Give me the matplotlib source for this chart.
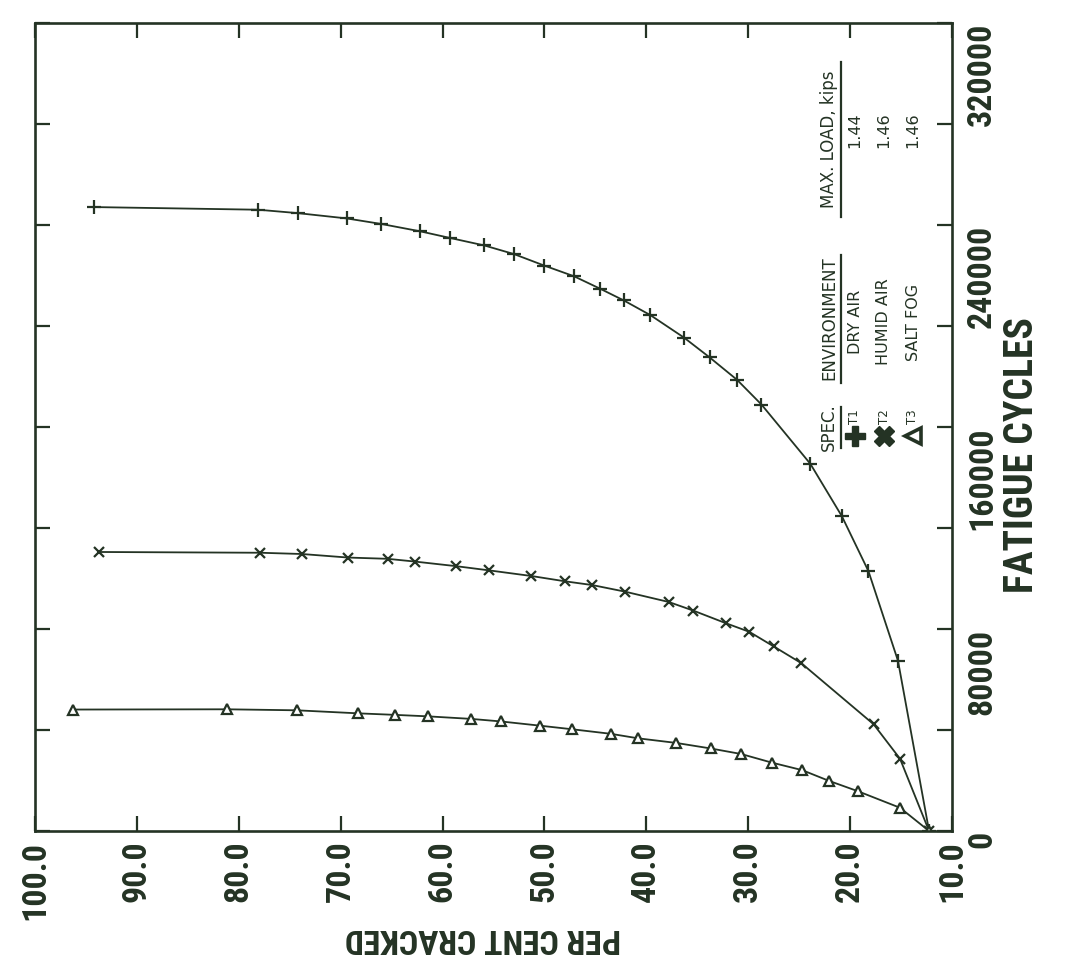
import matplotlib
matplotlib.use("Agg")
import matplotlib.pyplot as plt
from matplotlib.ticker import MultipleLocator, FixedLocator, FixedFormatter

# ---- data -------------------------------------------------------------
# per cent cracked (x) vs fatigue cycles (y) for the three specimens
t1_pct = [12.25, 15.3, 18.2, 20.8, 23.9, 28.7, 31.1, 33.8, 36.3, 39.6, 42.2,
          44.5, 47.1, 50.0, 53.0, 55.9, 59.3, 62.2, 66.0, 69.4, 74.2, 78.1, 94.2]
t1_cyc = [0, 67400, 102900, 124600, 145400, 168900, 178700, 187600, 195400,
          204300, 210100, 214700, 219700, 223900, 228500, 231900, 234900,
          237500, 240400, 242600, 244700, 246050, 247100]

t2_pct = [12.25, 15.1, 17.7, 24.8, 27.5, 29.9, 32.2, 35.4, 37.8, 42.1, 45.3,
          48.0, 51.3, 55.4, 58.7, 62.7, 65.4, 69.3, 73.8, 77.9, 93.7]
t2_cyc = [0, 28600, 42300, 66500, 73100, 78900, 82300, 87300, 90700, 94800,
          97400, 98900, 101000, 103200, 104900, 106700, 107800, 108300,
          109700, 110200, 110500]

t3_pct = [12.25, 15.1, 19.2, 22.1, 24.7, 27.7, 30.7, 33.7, 37.1, 40.8, 43.5,
          47.3, 50.4, 54.3, 57.2, 61.4, 64.7, 68.3, 74.3, 81.2, 96.3]
t3_cyc = [0, 9200, 15700, 19900, 24100, 27100, 30500, 32700, 34900, 36700,
          38500, 40300, 41700, 43400, 44400, 45400, 46000, 46600, 47800,
          48200, 48100]

pct_ticks = [100, 90, 80, 70, 60, 50, 40, 30, 20, 10]
pct_labels = ["100.0", "90.0", "80.0", "70.0", "60.0", "50.0", "40.0",
              "30.0", "20.0", "10.0"]
cyc_label_ticks = [0, 80000, 160000, 240000, 320000]
cyc_labels = ["0", "80000", "160000", "240000", "320000"]

spec_names = ["T1", "T2", "T3"]
environments = ["DRY AIR", "HUMID AIR", "SALT FOG"]
max_loads = ["1.44", "1.46", "1.46"]

# ---- styling ----------------------------------------------------------
INK = "#243324"
W, H = 1068, 955
BOLD_FONT = ["Roboto Condensed", "Liberation Sans Narrow", "Roboto", "DejaVu Sans"]
SMALL_FONT = ["DejaVu Sans"]

fig = plt.figure(figsize=(W / 100, H / 100), dpi=100)
fig.patch.set_facecolor("white")


def fx(px):
    return px / W


def fy(py):
    return 1 - py / H


ax = fig.add_axes([fx(35), fy(831), (952 - 35) / W, (831 - 23) / H])
ax.set_xlim(100, 10)
ax.set_ylim(0, 320000)

for s in ax.spines.values():
    s.set_linewidth(1.9)
    s.set_color(INK)

# curves
ax.plot(t1_pct, t1_cyc, color=INK, lw=1.3, marker="+", ms=10, mew=1.6)
ax.plot(t2_pct, t2_cyc, color=INK, lw=1.3, marker="x", ms=7, mew=1.6)
ax.plot(t3_pct, t3_cyc, color=INK, lw=1.3, marker="^", ms=6.5, mew=1.6,
        mfc="white", mec=INK)

# x axis: per cent cracked
ax.xaxis.set_major_locator(FixedLocator(pct_ticks))
ax.xaxis.set_major_formatter(FixedFormatter(pct_labels))
ax.tick_params(axis="x", which="both", direction="in", top=True, bottom=True,
               length=11, width=1.6, color=INK, pad=7, labelsize=24.5,
               labelcolor=INK)
for lab in ax.get_xticklabels():
    lab.set_rotation(90)
    lab.set_fontfamily(BOLD_FONT)
    lab.set_fontweight("bold")
    lab.set_va("top")
    lab.set_ha("center")

# y axis: fatigue cycles, labelled on the right
ax.yaxis.set_major_locator(FixedLocator(cyc_label_ticks))
ax.yaxis.set_major_formatter(FixedFormatter(cyc_labels))
ax.yaxis.set_minor_locator(MultipleLocator(40000))
ax.tick_params(axis="y", which="both", direction="in", left=True, right=True,
               labelleft=False, labelright=True, length=11, width=1.6,
               color=INK, pad=10, labelsize=24.5, labelcolor=INK)
for lab in ax.get_yticklabels():
    lab.set_rotation(90)
    lab.set_fontfamily(BOLD_FONT)
    lab.set_fontweight("bold")
    lab.set_va("top")
    lab.set_ha("left")

# axis titles
fig.text(fx(483), fy(938), "PER CENT CRACKED", rotation=180, ha="center",
         va="center", fontsize=24.3, fontweight="bold", family=BOLD_FONT,
         color=INK)
fig.text(fx(1022), fy(455), "FATIGUE CYCLES", rotation=90, ha="center",
         va="center", fontsize=28.5, fontweight="bold", family=BOLD_FONT,
         color=INK)

# key table
hdr_x = 829
for label, yc, y0, y1 in [("SPEC.", 427, 407, 448),
                          ("ENVIRONMENT", 318, 255, 383),
                          ("MAX. LOAD, kips", 139, 62, 217)]:
    fig.text(fx(hdr_x), fy(yc), label, rotation=90, ha="center", va="center",
             fontsize=12, family=SMALL_FONT, color=INK)
    fig.add_artist(plt.Line2D([fx(841), fx(841)], [fy(y0), fy(y1)],
                              transform=fig.transFigure, color=INK, lw=1.6))

row_x = [855, 884, 913]
key_markers = [dict(marker="P", ms=14, mfc=INK, mec=INK),
               dict(marker="X", ms=14, mfc=INK, mec=INK),
               dict(marker="<", ms=11, mfc="white", mec=INK, mew=2.6)]
for i, xr in enumerate(row_x):
    fig.add_artist(plt.Line2D([fx(xr)], [fy(436)], transform=fig.transFigure,
                              ls="none", **key_markers[i]))
    fig.text(fx(xr), fy(417), spec_names[i], rotation=90, ha="center",
             va="center", fontsize=8.5, family=SMALL_FONT, color=INK)
    fig.text(fx(xr), fy(322), environments[i], rotation=90, ha="center",
             va="center", fontsize=11.5, family=SMALL_FONT, color=INK)
    fig.text(fx(xr), fy(130), max_loads[i], rotation=90, ha="center",
             va="center", fontsize=11.5, family=SMALL_FONT, color=INK)

fig.savefig("out.png", dpi=100, facecolor="white")
